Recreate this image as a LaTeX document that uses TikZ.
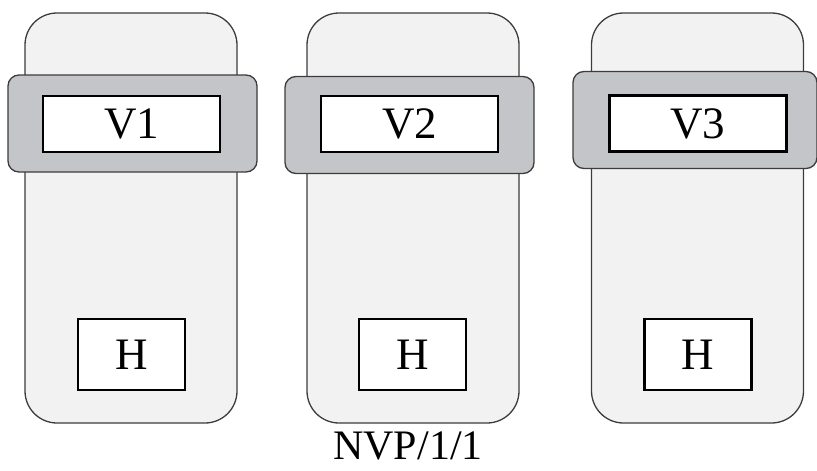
\documentclass[tikz,border=0pt]{standalone}
\usepackage{fontspec}
\setmainfont{Liberation Serif}
\definecolor{casefill}{HTML}{F2F2F2}
\definecolor{bandfill}{HTML}{C4C5C8}
\definecolor{edgegray}{HTML}{3C3C3C}
\begin{document}
\begin{tikzpicture}[x=1pt,y=-1pt,
    casebox/.style={draw=edgegray,fill=casefill,line width=1.3pt,rounded corners=32pt,
        minimum width=212pt,minimum height=410pt,inner sep=0pt,outer sep=0pt},
    bandbox/.style={draw=edgegray,fill=bandfill,line width=1.3pt,rounded corners=11pt,
        minimum width=249pt,minimum height=97pt,inner sep=0pt,outer sep=0pt},
    vbox/.style={draw=black,fill=white,line width=2.2pt,minimum width=177pt,
        minimum height=56pt,inner sep=0pt,font=\fontsize{45}{50}\selectfont},
    hbox/.style={draw=black,fill=white,line width=2.2pt,minimum width=107pt,
        minimum height=71pt,inner sep=0pt,font=\fontsize{45}{50}\selectfont}]
        \useasboundingbox (0,0) rectangle (817,471);

        \node[casebox] (case1) at (131,218) {};
        \node[casebox] (case2) at (413,218) {};
        \node[casebox] (case3) at (697.5,218) {};

        \node[bandbox] (band1) at (132.5,123.5) {};
        \node[bandbox] (band2) at (409.5,125) {};
        \node[bandbox,minimum width=244pt] (band3) at (695,120) {};

        \node[vbox] (v1) at (131.5,124) {V1};
        \node[vbox] (v2) at (409.5,124) {V2};
        \node[vbox] (v3) at (698,123.5) {V3};

        \node[hbox] (h1) at (131.5,354.5) {H};
        \node[hbox] (h2) at (412.5,354.5) {H};
        \node[hbox] (h3) at (698,354.5) {H};

        \node[font=\fontsize{42}{48}\selectfont,inner sep=0pt] (label) at (408,446) {NVP/1/1};
    \end{tikzpicture}
\end{document}
